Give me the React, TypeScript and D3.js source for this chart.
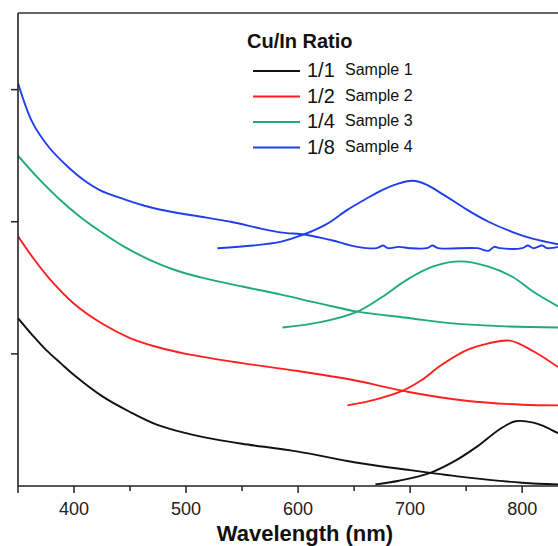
import React from "react";
import * as d3 from "d3";

// Wavelength (nm) / absorbance-PL intensity (a.u.)
const abs1: [number, number][] = [[350,1.27],[363,1.14],[375,1.03],[388,0.93],[400,0.84],[425,0.68],[450,0.56],[475,0.46],[500,0.40],[525,0.355],[550,0.32],[600,0.26],[650,0.18],[700,0.12],[750,0.065],[800,0.025],[832,0.012]];
const pl1: [number, number][] = [[669,0.012],[690,0.04],[718,0.10],[740,0.19],[760,0.30],[780,0.43],[794,0.49],[810,0.48],[820,0.45],[832,0.40]];
const abs2: [number, number][] = [[350,1.89],[364,1.72],[378,1.57],[400,1.38],[425,1.23],[450,1.12],[475,1.05],[500,1.0],[550,0.93],[600,0.87],[650,0.80],[700,0.71],[750,0.645],[800,0.615],[832,0.61]];
const pl2: [number, number][] = [[644,0.61],[667,0.65],[693,0.72],[710,0.80],[727,0.91],[751,1.03],[770,1.08],[789,1.10],[810,1.02],[832,0.90]];
const abs3: [number, number][] = [[350,2.5],[368,2.33],[387,2.17],[405,2.04],[423,1.93],[445,1.81],[468,1.71],[490,1.635],[515,1.575],[550,1.51],[584,1.45],[620,1.38],[653,1.32],[700,1.27],[733,1.235],[780,1.21],[832,1.20]];
const pl3: [number, number][] = [[586,1.20],[620,1.24],[653,1.32],[675,1.43],[697,1.56],[720,1.66],[745,1.70],[770,1.66],[792,1.58],[810,1.47],[832,1.36]];
const abs4: [number, number][] = [[350,3.05],[363,2.75],[378,2.56],[394,2.42],[408,2.32],[423,2.24],[445,2.17],[468,2.11],[490,2.07],[512,2.04],[540,2.0],[566,1.95],[584,1.92],[608,1.90],[630,1.86],[653,1.81],[670,1.80],[676,1.82],[680,1.80],[690,1.81],[700,1.80],[715,1.80],[720,1.82],[725,1.80],[760,1.80],[770,1.78],[775,1.81],[780,1.80],[800,1.80],[805,1.82],[810,1.80],[818,1.82],[822,1.80],[832,1.81]];
const pl4: [number, number][] = [[528,1.80],[560,1.82],[585,1.85],[604,1.90],[625,1.98],[644,2.09],[660,2.17],[675,2.24],[690,2.29],[702,2.31],[715,2.28],[725,2.23],[740,2.15],[751,2.09],[770,2.0],[792,1.92],[810,1.87],[832,1.83]];

const colors = ["#111111", "#ff1f1f", "#1faa78", "#1f3fee"];
const ratios = ["1/1", "1/2", "1/4", "1/8"];
const samples = ["Sample 1", "Sample 2", "Sample 3", "Sample 4"];
const xMajorTicks = [350, 400, 500, 600, 700, 800];
const xLabelTicks = [400, 500, 600, 700, 800];
const xMinorTicks = [450, 550, 650, 750];
const yTicks = [1, 2, 3];

export default function App() {
  const W = 558, H = 546;
  const x = d3.scaleLinear().domain([350, 832]).range([18, 558]);
  const y = d3.scaleLinear().domain([0, 3.58]).range([486, 13]);
  const line = d3.line<[number, number]>().x(d => x(d[0])).y(d => y(d[1])).curve(d3.curveCatmullRom.alpha(0.5));
  const series = [[abs1, pl1], [abs2, pl2], [abs3, pl3], [abs4, pl4]];
  const font = "Liberation Sans, Arial, sans-serif";
  return (
    <svg width={W} height={H} style={{ position: "absolute", left: 0, top: 0, background: "#fff" }} fontFamily={font}>
      <defs>
        <clipPath id="plot"><rect x={18} y={13} width={W - 18} height={473} /></clipPath>
      </defs>
      <g clipPath="url(#plot)">
        {series.map((pair, i) => pair.map((d, j) => (
          <path key={`${i}-${j}`} d={line(d) || ""} fill="none" stroke={colors[i]} strokeWidth={1.9} strokeLinejoin="round" />
        )))}
      </g>
      {/* frame */}
      <line x1={18} x2={W} y1={13} y2={13} stroke="#333" strokeWidth={1.6} />
      <line x1={18} x2={18} y1={13} y2={486} stroke="#222" strokeWidth={1.6} />
      <line x1={18} x2={W} y1={486} y2={486} stroke="#222" strokeWidth={1.6} />
      {yTicks.map(t => (
        <line key={t} x1={11} x2={18} y1={y(t)} y2={y(t)} stroke="#222" strokeWidth={1.5} />
      ))}
      {xMajorTicks.map(t => (
        <line key={t} x1={x(t)} x2={x(t)} y1={486} y2={493} stroke="#222" strokeWidth={1.5} />
      ))}
      {xMinorTicks.map(t => (
        <line key={t} x1={x(t)} x2={x(t)} y1={486} y2={491} stroke="#222" strokeWidth={1.5} />
      ))}
      {xLabelTicks.map(t => (
        <text key={t} x={x(t)} y={515} fontSize={18} textAnchor="middle" fill="#222">{t}</text>
      ))}
      <text x={305} y={541} fontSize={22} fontWeight="bold" textAnchor="middle" fill="#111">Wavelength (nm)</text>
      {/* legend */}
      <text x={247} y={48} fontSize={20} fontWeight="bold" fill="#111">Cu/In Ratio</text>
      {ratios.map((r, i) => (
        <g key={r}>
          <line x1={253} x2={300} y1={71 + i * 25.5} y2={71 + i * 25.5} stroke={colors[i]} strokeWidth={1.9} />
          <text x={307} y={77 + i * 25.5} fontSize={20} fill="#111">{r}</text>
          <text x={345} y={75 + i * 25.5} fontSize={16} fill="#111">{samples[i]}</text>
        </g>
      ))}
    </svg>
  );
}
